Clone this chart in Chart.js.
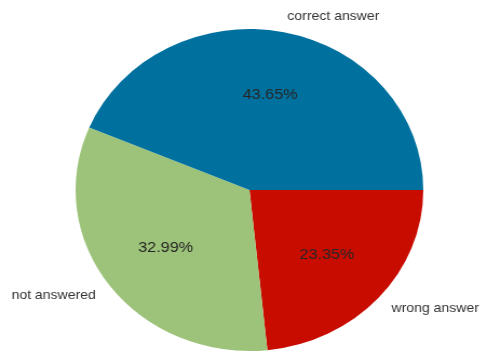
<!DOCTYPE html>
<html>
<head>
<meta charset="utf-8">
<script src="https://cdn.jsdelivr.net/npm/chart.js@4/dist/chart.umd.min.js"></script>
<style>
  html, body { margin: 0; padding: 0; background: #ffffff; overflow: hidden; }
  #wrap { width: 451px; height: 354px; transform: scaleX(1.0798); transform-origin: 0 0; }
  canvas { display: block; }
</style>
</head>
<body>
<div id="wrap"><canvas id="chart" width="451" height="354"></canvas></div>
<script>
// Answer breakdown, listed counter-clockwise from 3 o'clock
const categories = ['correct answer', 'not answered', 'wrong answer'];
const shares = [43.65, 32.99, 23.35];
const sliceColors = ['#00719f', '#9dc37a', '#c90c00'];

// Chart.js sweeps clockwise, so feed the slices in reverse order
const order = [2, 1, 0];
const data = order.map(i => shares[i]);
const labels = order.map(i => categories[i]);
const colors = order.map(i => sliceColors[i]);

const FONT = '"Liberation Sans", Arial, Helvetica, sans-serif';

const pieLabels = {
  id: 'pieLabels',
  afterDatasetsDraw(chart) {
    const ctx = chart.ctx;
    const meta = chart.getDatasetMeta(0);
    ctx.save();
    ctx.textBaseline = 'middle';
    meta.data.forEach((arc, idx) => {
      const { x, y, startAngle, endAngle, outerRadius } = arc.getProps(
        ['x', 'y', 'startAngle', 'endAngle', 'outerRadius'], true);
      const mid = (startAngle + endAngle) / 2;
      const c = Math.cos(mid), s = Math.sin(mid);
      // value text inside the wedge
      ctx.font = '15px ' + FONT;
      ctx.fillStyle = '#262626';
      ctx.textAlign = 'center';
      ctx.fillText(data[idx].toFixed(2) + '%', x + 0.6 * outerRadius * c, y + 0.6 * outerRadius * s);
      // category name outside the wedge
      ctx.font = '13px ' + FONT;
      ctx.fillStyle = '#333333';
      ctx.textAlign = c >= 0 ? 'left' : 'right';
      ctx.fillText(labels[idx], x + 1.1 * outerRadius * c, y + 1.1 * outerRadius * s);
    });
    ctx.restore();
  }
};

new Chart(document.getElementById('chart'), {
  type: 'pie',
  data: {
    labels: labels,
    datasets: [{
      data: data,
      backgroundColor: colors,
      borderWidth: 0
    }]
  },
  options: {
    responsive: false,
    animation: false,
    rotation: 90,
    layout: { padding: { top: 29, bottom: 3, left: 11, right: 0 } },
    plugins: {
      legend: { display: false },
      tooltip: { enabled: false }
    }
  },
  plugins: [pieLabels]
});
</script>
</body>
</html>
